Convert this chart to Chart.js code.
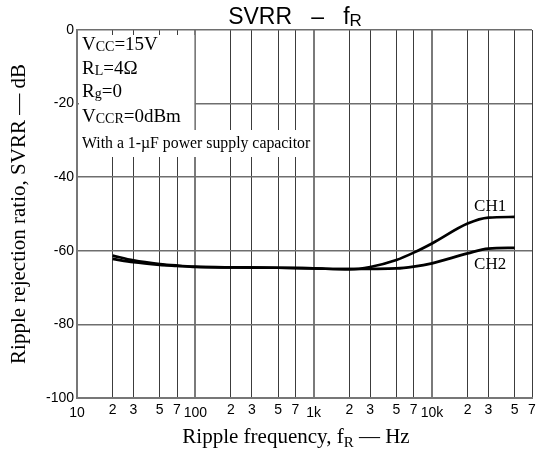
<!DOCTYPE html>
<html>
<head>
<meta charset="utf-8">
<script src="https://cdn.jsdelivr.net/npm/chart.js@4.4.1/dist/chart.umd.min.js"></script>
<style>
  html, body { margin: 0; padding: 0; background: #fff; }
  #wrap { width: 543px; height: 451px; }
</style>
</head>
<body>
<div id="wrap"><canvas id="chart" width="543" height="451"></canvas></div>
<script>
// Data
const freqs = [20, 30, 50, 70, 100, 200, 500, 1000, 2000, 3000, 5000, 7000, 10000, 20000, 30000, 50000];
const ch1 = [-61.3, -62.6, -63.6, -64.0, -64.3, -64.5, -64.6, -64.8, -65.0, -64.4, -62.5, -60.5, -58.0, -52.6, -51.0, -50.8];
const ch2 = [-62.2, -63.1, -63.8, -64.1, -64.4, -64.5, -64.6, -64.8, -65.0, -64.9, -64.8, -64.3, -63.4, -60.7, -59.4, -59.2];

// x ticks: 10, 2, 3, 5, 7, 100, ... up to 70k
const xTicks = [10, 20, 30, 50, 70, 100, 200, 300, 500, 700, 1000, 2000, 3000, 5000, 7000, 10000, 20000, 30000, 50000, 70000];
const xTickLabels = ["10", "2", "3", "5", "7", "100", "2", "3", "5", "7", "1k", "2", "3", "5", "7", "10k", "2", "3", "5", "7"];
const decades = [10, 100, 1000, 10000];

const SERIF = "'Liberation Serif', 'Times New Roman', serif";
const SANS = "'Liberation Sans', Arial, sans-serif";

// draw a row of text pieces, some of them as subscripts
function drawRuns(ctx, runs, x, y) {
  runs.forEach((r) => {
    ctx.font = r.font;
    ctx.fillText(r.t, x, y + (r.dy || 0));
    x += ctx.measureText(r.t).width;
  });
}
function runsWidth(ctx, runs) {
  let w = 0;
  runs.forEach((r) => { ctx.font = r.font; w += ctx.measureText(r.t).width; });
  return w;
}

const big = "19px " + SERIF;
const sub = "14px " + SERIF;

const textPlugin = {
  id: "notes",
  beforeDatasetsDraw(chart) {
    const ctx = chart.ctx;
    const { left } = chart.chartArea;
    const xs = chart.scales.x;
    ctx.save();
    // white box holding the test conditions
    ctx.fillStyle = "#fff";
    ctx.fillRect(left + 2, 35, xs.getPixelForValue(100) - left - 3, 95);
    ctx.fillRect(left + 2, 130, xs.getPixelForValue(1000) - left - 3, 27);

    ctx.fillStyle = "#000";
    ctx.textBaseline = "alphabetic";
    ctx.textAlign = "left";
    const tx = left + 5;
    drawRuns(ctx, [{ t: "V", font: big }, { t: "CC", font: sub, dy: 1 }, { t: "=15V", font: big }], tx, 50);
    drawRuns(ctx, [{ t: "R", font: big }, { t: "L", font: sub, dy: 1 }, { t: "=4Ω", font: big }], tx, 74);
    drawRuns(ctx, [{ t: "R", font: big }, { t: "g", font: sub, dy: 1 }, { t: "=0", font: big }], tx, 97);
    drawRuns(ctx, [{ t: "V", font: big }, { t: "CCR", font: sub, dy: 1 }, { t: "=0dBm", font: big }], tx, 122);
    ctx.font = "15.8px " + SERIF;
    ctx.fillText("With a 1-µF power supply capacitor", tx, 148);
    ctx.restore();
  },
  afterDraw(chart) {
    const ctx = chart.ctx;
    const xs = chart.scales.x;
    const ys = chart.scales.y;
    ctx.save();
    ctx.fillStyle = "#000";
    ctx.textBaseline = "alphabetic";
    ctx.textAlign = "left";

    // title
    const tBig = "23px " + SANS;
    const tSub = "17px " + SANS;
    const title = [{ t: "SVRR", font: tBig }, { t: "   –   ", font: tBig }, { t: "f", font: tBig }, { t: "R", font: tSub, dy: 2 }];
    drawRuns(ctx, title, 295 - runsWidth(ctx, title) / 2, 24);

    // x axis title
    const xt = [{ t: "Ripple frequency, f", font: "21px " + SERIF }, { t: "R", font: "15px " + SERIF, dy: 4 }, { t: " — Hz", font: "21px " + SERIF }];
    drawRuns(ctx, xt, 296 - runsWidth(ctx, xt) / 2, 443);

    // curve labels
    ctx.font = "17px " + SERIF;
    ctx.textAlign = "center";
    ctx.fillText("CH1", xs.getPixelForValue(31000), ys.getPixelForValue(-49.3));
    ctx.fillText("CH2", xs.getPixelForValue(31000), ys.getPixelForValue(-65.0));
    ctx.restore();
  }
};

new Chart(document.getElementById("chart"), {
  type: "line",
  data: {
    datasets: [
      { label: "CH1", data: freqs.map((f, i) => ({ x: f, y: ch1[i] })) },
      { label: "CH2", data: freqs.map((f, i) => ({ x: f, y: ch2[i] })) },
    ],
  },
  options: {
    responsive: false,
    animation: false,
    devicePixelRatio: 1,
    layout: { padding: { top: 30, right: 11, left: 0, bottom: 0 } },
    elements: {
      point: { radius: 0 },
      line: { borderColor: "#000", borderWidth: 2.7, cubicInterpolationMode: "monotone" },
    },
    plugins: {
      legend: { display: false },
      tooltip: { enabled: false },
    },
    scales: {
      x: {
        type: "logarithmic",
        min: 10,
        max: 70000,
        afterBuildTicks: (scale) => {
          scale.ticks = xTicks.map((v) => ({ value: v }));
        },
        afterFit: (scale) => { scale.height = 53; },
        grid: {
          drawTicks: false,
          color: (c) => (c.tick && decades.includes(c.tick.value) ? "#7a7a7a" : "#3c3c3c"),
          lineWidth: (c) => (c.tick && decades.includes(c.tick.value) ? 2 : 1),
        },
        border: { color: "#777", width: 2 },
        ticks: {
          autoSkip: false,
          maxRotation: 0,
          padding: 4,
          color: "#000",
          // decade labels sit a little lower than the 2/3/5/7 ones
          font: (c) => ({
            family: SANS,
            size: 14,
            lineHeight: c.tick && decades.includes(c.tick.value) ? 1.6 : 1.2,
          }),
          callback: (value) => {
            const i = xTicks.indexOf(value);
            return i >= 0 ? xTickLabels[i] : "";
          },
        },
      },
      y: {
        min: -100,
        max: 0,
        afterFit: (scale) => { scale.width = 77; },
        grid: { color: "#6e6e6e", lineWidth: 1.5, drawTicks: false },
        border: { color: "#777", width: 2 },
        ticks: {
          stepSize: 20,
          padding: 3,
          color: "#000",
          font: { family: SANS, size: 14 },
        },
        title: {
          display: true,
          text: "Ripple rejection ratio, SVRR — dB",
          color: "#000",
          font: { family: SERIF, size: 21 },
          padding: { top: 7, bottom: 0 },
        },
      },
    },
  },
  plugins: [textPlugin],
});
</script>
</body>
</html>
